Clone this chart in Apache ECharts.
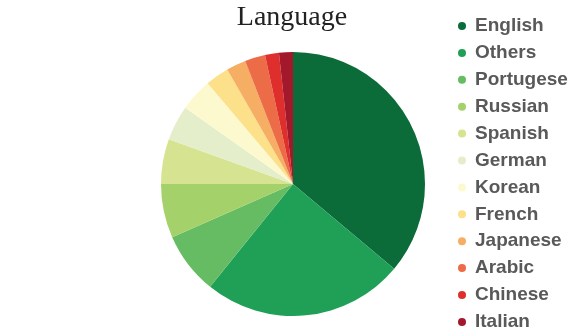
<!DOCTYPE html>
<html>
<head>
<meta charset="utf-8">
<script src="https://cdn.jsdelivr.net/npm/echarts@6/dist/echarts.min.js"></script>
<style>
  html, body { margin: 0; padding: 0; background: #ffffff; }
  #chart { width: 583px; height: 329px; }
</style>
</head>
<body>
<div id="chart"></div>
<script>
// Share of content by language (percent)
const languages = ['English', 'Others', 'Portugese', 'Russian', 'Spanish', 'German',
                   'Korean', 'French', 'Japanese', 'Arabic', 'Chinese', 'Italian'];
const shares = [36.1, 24.7, 7.6, 6.6, 5.5, 4.3, 4.0, 2.9, 2.4, 2.5, 1.7, 1.7];
const palette = ['#0b6b39', '#20a057', '#66bc63', '#a5d16a', '#d6e491', '#e5eecb',
                 '#fdf9cf', '#fce08a', '#f5ae63', '#ec6c48', '#de2f2d', '#a3182a'];

const chart = echarts.init(document.getElementById('chart'), null, { renderer: 'canvas' });

chart.setOption({
  animation: false,
  color: palette,
  title: {
    text: 'Language',
    left: 292,
    textAlign: 'center',
    top: 4,
    padding: 0,
    textStyle: {
      fontFamily: 'Liberation Serif',
      fontSize: 28,
      fontWeight: 'normal',
      color: '#222222'
    }
  },
  legend: {
    orient: 'vertical',
    left: 458,
    top: 16.5,
    height: 340,
    padding: 0,
    icon: 'circle',
    itemWidth: 8,
    itemHeight: 8,
    itemGap: 7.9,
    data: languages,
    textStyle: {
      fontFamily: 'Liberation Sans',
      fontSize: 19,
      fontWeight: 'bold',
      color: '#595959',
      lineHeight: 18,
      padding: [0, 0, 0, 4]
    }
  },
  series: [{
    type: 'pie',
    center: [293, 184],
    radius: 132,
    startAngle: 90,
    clockwise: true,
    label: { show: false },
    labelLine: { show: false },
    emphasis: { disabled: true },
    data: languages.map((name, i) => ({ name: name, value: shares[i] }))
  }]
});
</script>
</body>
</html>
